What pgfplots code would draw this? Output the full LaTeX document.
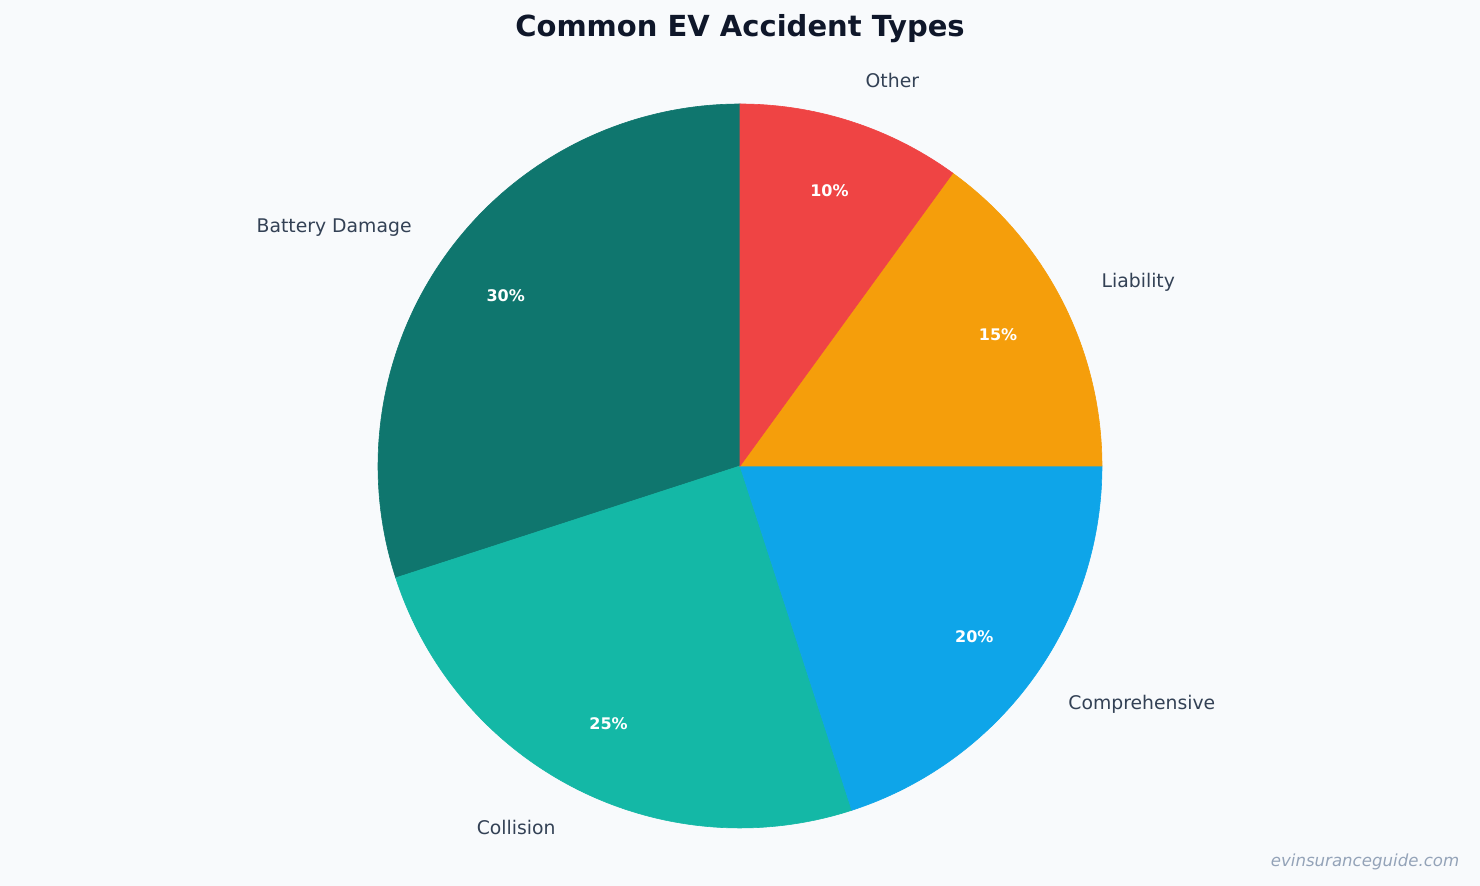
\documentclass[border=0pt]{standalone}
\usepackage{fontspec}
\setmainfont{DejaVu Sans}
\usepackage{pgfplots}
\pgfplotsset{compat=1.18}

\definecolor{bg}{HTML}{F8FAFC}
\definecolor{titlec}{HTML}{0F172A}
\definecolor{labelc}{HTML}{334155}
\definecolor{markc}{HTML}{94A3B8}
\definecolor{cBattery}{HTML}{0F766E}
\definecolor{cCollision}{HTML}{14B8A6}
\definecolor{cCompr}{HTML}{0EA5E9}
\definecolor{cLiab}{HTML}{F59E0B}
\definecolor{cOther}{HTML}{EF4444}

% #1 = share already used (percent), #2 = share of this slice, #3 = colour
\newcommand{\slice}[3]{%
  \addplot[draw=#3, line width=0.3pt, fill=#3, domain={90+3.6*#1}:{90+3.6*(#1+#2)},
    samples=90, variable=\t] ({cos(\t)},{sin(\t)}) -- (axis cs:0,0) -- cycle;
}
% #1 = mid angle, #2 = name, #3 = anchor, #4 = percent text
\newcommand{\slicelabel}[4]{%
  \node[lbl, anchor=#3] at (axis cs:{1.12*cos(#1)},{1.12*sin(#1)}) {#2};
  \node[pct] at (axis cs:{0.8*cos(#1)},{0.8*sin(#1)}) {#4};
}

\tikzset{
  lbl/.style={font=\fontsize{9.4}{11}\selectfont, text=labelc, inner sep=0pt},
  pct/.style={font=\bfseries\fontsize{8.0}{9}\selectfont, text=white, inner sep=0pt}
}

\begin{document}
\begin{tikzpicture}
\fill[bg] (0,0) rectangle (740pt,443pt);
\node[anchor=base, inner sep=0pt, text=titlec, font=\bfseries\fontsize{14.5}{17}\selectfont]
  at (370pt,424.5pt) {Common EV Accident Types};

\begin{axis}[
    at={(370pt,210pt)}, anchor=origin,
    width=362pt, height=362pt, scale only axis,
    xmin=-1, xmax=1, ymin=-1, ymax=1,
    hide axis, clip=false,
  ]
  % shares in percent: Battery Damage 30, Collision 25, Comprehensive 20, Liability 15, Other 10
  \slice{0}{30}{cBattery}
  \slice{30}{25}{cCollision}
  \slice{55}{20}{cCompr}
  \slice{75}{15}{cLiab}
  \slice{90}{10}{cOther}

  \slicelabel{144}{Battery Damage}{east}{30\%}
  \slicelabel{243}{Collision}{east}{25\%}
  \slicelabel{324}{Comprehensive}{west}{20\%}
  \slicelabel{27}{Liability}{west}{15\%}
  \slicelabel{72}{Other}{west}{10\%}
\end{axis}

\node[anchor=base east, inner sep=0pt, text=markc, font=\itshape\fontsize{8.3}{10}\selectfont]
  at (729.8pt,9.5pt) {evinsuranceguide.com};
\end{tikzpicture}
\end{document}
